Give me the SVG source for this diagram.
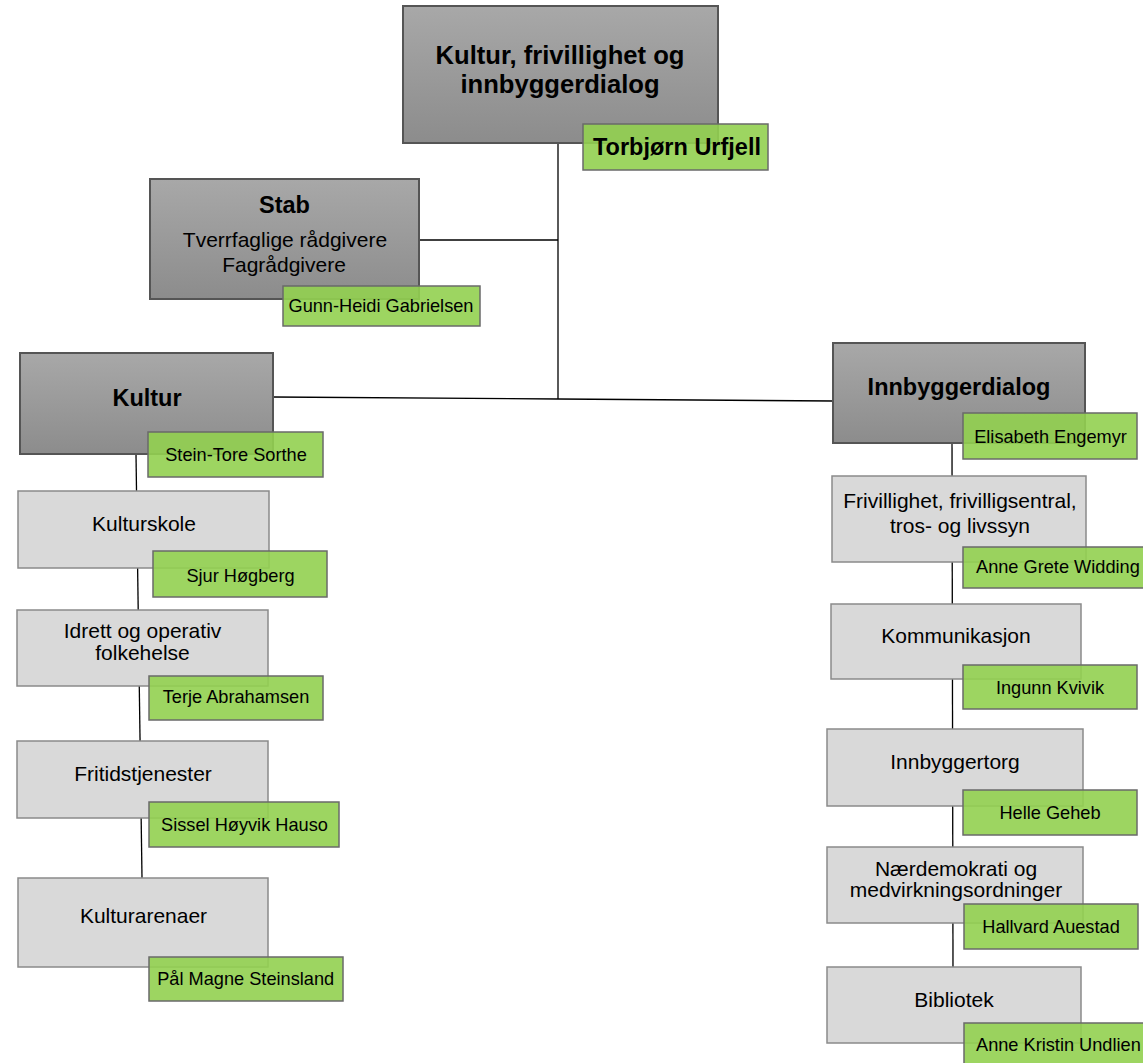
<svg xmlns="http://www.w3.org/2000/svg" width="1143" height="1063" viewBox="0 0 1143 1063">
<defs>
<linearGradient id="gDark" x1="0" y1="0" x2="0" y2="1">
<stop offset="0" stop-color="#a8a8a8"/>
<stop offset="1" stop-color="#8c8c8c"/>
</linearGradient>
</defs>
<style>
.dark{fill:url(#gDark);stroke:#555;stroke-width:2}
.light{fill:#d9d9d9;stroke:#8a8a8a;stroke-width:1.5}
.green{fill:#92d050;fill-opacity:0.9;stroke:#6a6a6a;stroke-width:1.5}
.conn{fill:none;stroke:#000;stroke-width:1.3}
text{font-family:"Liberation Sans",Arial,sans-serif;fill:#000}
.t{font-size:21px;text-anchor:middle}
.b{font-size:23.5px;font-weight:bold;text-anchor:middle}
.n{font-size:18.2px;text-anchor:middle}
.ns{font-size:18.2px}
</style>
<rect width="1143" height="1063" fill="#fff"/>
<g id="connectors">
<line class="conn" x1="558" y1="143" x2="558" y2="399"/>
<line class="conn" x1="419" y1="240" x2="558" y2="240"/>
<polyline class="conn" points="273,397 558,399 833,401"/>
<line class="conn" x1="136" y1="454" x2="142" y2="878"/>
<line class="conn" x1="952" y1="443" x2="953" y2="967"/>
</g>
<g id="top">
<rect class="dark" x="403" y="6" width="315" height="137"/>
<text class="b" x="560" y="64" style="font-size:25.6px">Kultur, frivillighet og</text>
<text class="b" x="560" y="92.5" style="font-size:25.6px">innbyggerdialog</text>
<rect class="green" x="583" y="124" width="185" height="46"/>
<text class="b" x="677" y="155">Torbjørn Urfjell</text>
</g>
<g id="stab">
<rect class="dark" x="150" y="179" width="269" height="120"/>
<text class="b" x="284.5" y="213">Stab</text>
<text class="t" x="285" y="247">Tverrfaglige rådgivere</text>
<text class="t" x="284" y="272">Fagrådgivere</text>
<rect class="green" x="283" y="286" width="197" height="40"/>
<text class="n" x="381" y="312">Gunn-Heidi Gabrielsen</text>
</g>
<g id="kultur">
<rect class="dark" x="20" y="353" width="253" height="101"/>
<text class="b" x="147" y="406">Kultur</text>
<rect class="green" x="148" y="432" width="175" height="45"/>
<text class="n" x="236" y="461">Stein-Tore Sorthe</text>
</g>
<g id="innbyggerdialog">
<rect class="dark" x="833" y="343" width="252" height="100"/>
<text class="b" x="959" y="395">Innbyggerdialog</text>
<rect class="green" x="963" y="413" width="174" height="46"/>
<text class="n" x="1050.5" y="443">Elisabeth Engemyr</text>
</g>
<g id="kulturskole">
<rect class="light" x="18" y="491" width="251" height="77"/>
<text class="t" x="144" y="531">Kulturskole</text>
<rect class="green" x="153" y="551" width="174" height="46"/>
<text class="n" x="240.5" y="582">Sjur Høgberg</text>
</g>
<g id="idrett">
<rect class="light" x="17" y="610" width="251" height="76"/>
<text class="t" x="142.5" y="638">Idrett og operativ</text>
<text class="t" x="142.5" y="660">folkehelse</text>
<rect class="green" x="149" y="676" width="174" height="44"/>
<text class="n" x="236" y="703">Terje Abrahamsen</text>
</g>
<g id="fritid">
<rect class="light" x="17" y="741" width="251" height="77"/>
<text class="t" x="143" y="781">Fritidstjenester</text>
<rect class="green" x="149" y="802" width="190" height="45"/>
<text class="n" x="244.5" y="831">Sissel Høyvik Hauso</text>
</g>
<g id="kulturarenaer">
<rect class="light" x="18" y="878" width="250" height="89"/>
<text class="t" x="143.5" y="923">Kulturarenaer</text>
<rect class="green" x="149" y="957" width="194" height="44"/>
<text class="n" x="245.7" y="985">Pål Magne Steinsland</text>
</g>
<g id="frivillighet">
<rect class="light" x="832" y="476" width="254" height="86"/>
<text class="t" x="960" y="508">Frivillighet, frivilligsentral,</text>
<text class="t" x="960" y="533">tros- og livssyn</text>
<rect class="green" x="963" y="547" width="186" height="41"/>
<text class="ns" x="976" y="573">Anne Grete Widding</text>
</g>
<g id="kommunikasjon">
<rect class="light" x="831" y="604" width="250" height="75"/>
<text class="t" x="956" y="643">Kommunikasjon</text>
<rect class="green" x="963" y="665" width="174" height="44"/>
<text class="n" x="1050" y="694">Ingunn Kvivik</text>
</g>
<g id="innbyggertorg">
<rect class="light" x="827" y="729" width="256" height="77"/>
<text class="t" x="955" y="769">Innbyggertorg</text>
<rect class="green" x="963" y="790" width="174" height="45"/>
<text class="n" x="1050" y="819">Helle Geheb</text>
</g>
<g id="naerdemokrati">
<rect class="light" x="827" y="847" width="256" height="76"/>
<text class="t" x="956" y="876">Nærdemokrati og</text>
<text class="t" x="956" y="897">medvirkningsordninger</text>
<rect class="green" x="964" y="904" width="174" height="45"/>
<text class="n" x="1051" y="933">Hallvard Auestad</text>
</g>
<g id="bibliotek">
<rect class="light" x="827" y="967" width="254" height="76"/>
<text class="t" x="954" y="1007">Bibliotek</text>
<rect class="green" x="964" y="1023" width="186" height="50"/>
<text class="ns" x="976" y="1051">Anne Kristin Undlien</text>
</g>
</svg>
